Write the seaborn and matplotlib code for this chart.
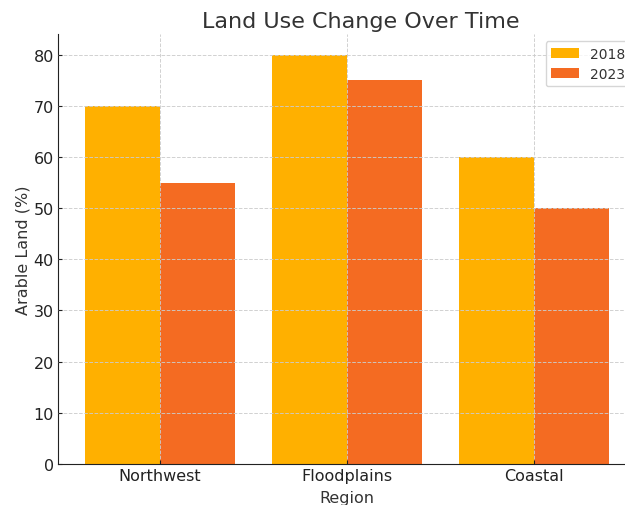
import matplotlib
matplotlib.use("Agg")
import matplotlib.pyplot as plt
import seaborn as sns
import pandas as pd

regions = ["Northwest", "Floodplains", "Coastal"]
years = ["2018", "2023"]
arable_2018 = [70, 80, 60]
arable_2023 = [55, 75, 50]

df = pd.DataFrame({
    "Region": regions * 2,
    "Year": [years[0]] * 3 + [years[1]] * 3,
    "Arable": arable_2018 + arable_2023,
})

palette = {"2018": "#FFB000", "2023": "#F46B22"}

fig = plt.figure(figsize=(6.25, 5.06), dpi=100)
ax = fig.add_axes([0.0928, 0.081, 0.925, 0.8497])

sns.barplot(data=df, x="Region", y="Arable", hue="Year", palette=palette,
            saturation=1, width=0.8, ax=ax, edgecolor="none")

ax.set_xlim(-0.544, 2.544)
ax.set_ylim(0, 84)
ax.set_yticks(range(0, 81, 10))

ax.set_axisbelow(False)
ax.grid(True, linestyle="--", color="#cccccc", linewidth=0.7, alpha=0.9)

for s in ["top", "right"]:
    ax.spines[s].set_visible(False)
for s in ["left", "bottom"]:
    ax.spines[s].set_color("#222222")

text_color = "#333333"
ax.set_title("Land Use Change Over Time", fontsize=16, color=text_color,
             pad=5, x=0.524)
ax.set_xlabel("Region", fontsize=11.5, color=text_color, labelpad=5)
ax.set_ylabel("Arable Land (%)", fontsize=11.5, color=text_color, labelpad=2)
ax.tick_params(axis="both", labelsize=11.5, colors="#222222",
               direction="in", length=3, pad=3)
for lbl in ax.get_xticklabels() + ax.get_yticklabels():
    lbl.set_color("#222222")

leg = ax.legend(title=None, loc="upper right", bbox_to_anchor=(1.003, 1.0),
                fontsize=10, frameon=True, labelspacing=0.45)
for t in leg.get_texts():
    t.set_color(text_color)

fig.savefig("out.png", dpi=100)
